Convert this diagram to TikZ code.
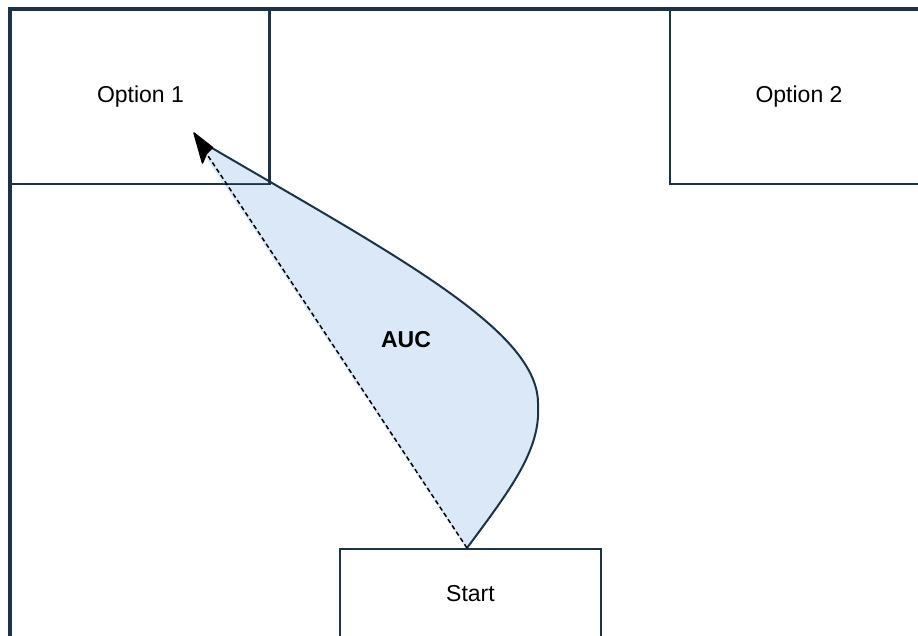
\documentclass[tikz,border=0pt]{standalone}
\usepackage{fontspec}
\setmainfont{Liberation Sans}
\usetikzlibrary{calc}
\definecolor{edge}{HTML}{1C3347}
\definecolor{aucfill}{HTML}{DAE8F7}
\tikzset{
  room/.style={draw=edge, line width=3.2pt},
  box/.style={draw=edge, line width=2pt, fill=white, anchor=north west,
    inner sep=0pt, font=\fontsize{23}{27}\selectfont},
  curveline/.style={draw=edge, line width=2pt},
  choice/.style={draw=black, line width=1.5pt, dash pattern=on 4.5pt off 3pt},
  head/.style={fill=black, draw=black, line width=1.5pt, line join=round},
}
\begin{document}
\begin{tikzpicture}[x=1pt,y=-1pt]
\useasboundingbox (0,0) rectangle (918,635);
\clip (0,0) rectangle (918,635);
% shaded area between the straight choice line and the curved trajectory
\coordinate (curveEnd) at (212,148);
\fill[aucfill] (466,548) .. controls (510,490) and (541,450) .. (538,405)
  .. controls (540,332) and (400,258) .. (curveEnd) -- (205,156) -- cycle;
% boxes
\node[box, minimum width=259pt, minimum height=174pt] (opt1) at (10,9) {Option 1};
\node[box, minimum width=258pt, minimum height=174pt] (opt2) at (669,9) {Option 2};
\node[box, minimum width=261pt, minimum height=90pt] (start) at (339,548) {Start};
% outer room
\draw[room] (10,660) -- (10,9) -- (940,9);
% part of the area that lies over the Option 1 box
\fill[aucfill] (269,183) -- (228,158) -- (212,148) -- (205,156) -- (223,183) -- cycle;
\draw[edge, line width=2pt] (269,184) -- (269,9);
% curved trajectory
\coordinate (s) at ($(start.north)+(-3.5,0)$);
\draw[curveline] (s) .. controls (510,490) and (541,450) .. (538,405)
  .. controls (540,332) and (400,258) .. (curveEnd);
% label
\node[font=\bfseries\fontsize{23}{27}\selectfont] (auc) at (406,340) {AUC};
% straight choice arrow with its head
\coordinate (tip) at (194,133);
\coordinate (notch) at (206.5,153.5);
\coordinate (barbL) at (202.5,163);
\coordinate (barbR) at (212.5,147.5);
\draw[choice] (s) -- (notch);
\filldraw[head] (tip) -- (barbR) -- (notch) -- (barbL) -- cycle;
\end{tikzpicture}
\end{document}
